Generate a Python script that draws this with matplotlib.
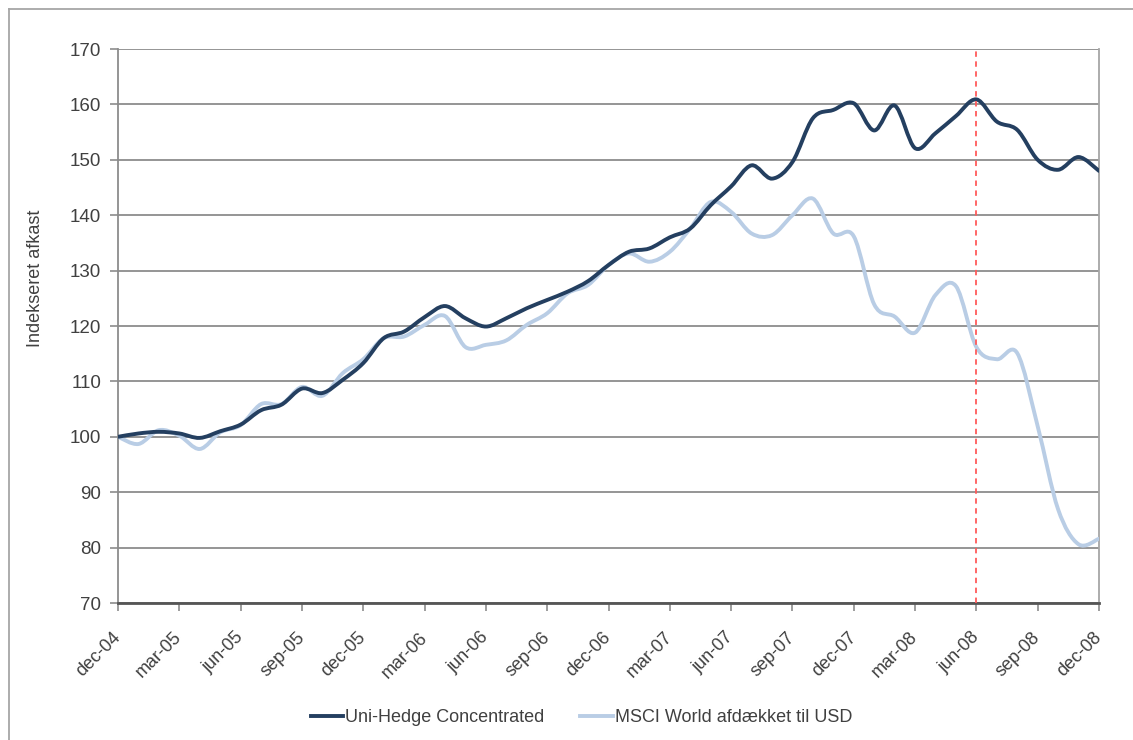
import numpy as np
import matplotlib
matplotlib.use("Agg")
import matplotlib.pyplot as plt
import matplotlib.transforms as mtransforms
from matplotlib.path import Path
from matplotlib.patches import PathPatch
from matplotlib.lines import Line2D

plt.rcParams['font.family'] = ['Liberation Sans Narrow', 'Liberation Sans', 'DejaVu Sans']

# monthly index values, dec-04 .. dec-08
months = ["dec-04", "jan-05", "feb-05", "mar-05", "apr-05", "maj-05", "jun-05", "jul-05",
          "aug-05", "sep-05", "okt-05", "nov-05", "dec-05", "jan-06", "feb-06", "mar-06",
          "apr-06", "maj-06", "jun-06", "jul-06", "aug-06", "sep-06", "okt-06", "nov-06",
          "dec-06", "jan-07", "feb-07", "mar-07", "apr-07", "maj-07", "jun-07", "jul-07",
          "aug-07", "sep-07", "okt-07", "nov-07", "dec-07", "jan-08", "feb-08", "mar-08",
          "apr-08", "maj-08", "jun-08", "jul-08", "aug-08", "sep-08", "okt-08", "nov-08",
          "dec-08"]
unihedge = [100.0, 100.6, 100.9, 100.6, 99.8, 101.0, 102.2, 104.8, 105.8, 108.7,
            107.9, 110.3, 113.3, 117.8, 119.0, 121.6, 123.6, 121.4, 119.9, 121.4,
            123.2, 124.7, 126.2, 128.1, 131.0, 133.4, 134.0, 136.0, 137.6, 141.8,
            145.2, 149.0, 146.6, 149.6, 157.5, 159.0, 160.2, 155.3, 159.8, 152.1,
            154.8, 157.9, 160.9, 156.9, 155.4, 150.0, 148.2, 150.5, 148.0]
msci = [100.0, 98.7, 101.2, 100.2, 97.8, 100.8, 102.1, 105.9, 105.9, 109.0,
        107.4, 111.5, 114.0, 117.8, 118.1, 120.2, 121.8, 116.2, 116.6, 117.4,
        120.2, 122.3, 125.9, 127.4, 131.0, 133.1, 131.6, 133.4, 137.6, 142.4,
        140.6, 136.7, 136.4, 140.0, 143.0, 136.7, 136.2, 123.9, 121.7, 118.8,
        125.6, 127.2, 116.2, 114.0, 115.1, 101.9, 86.9, 80.6, 81.6]
series_names = ["Uni-Hedge Concentrated", "MSCI World afdækket til USD"]
yticks = [70, 80, 90, 100, 110, 120, 130, 140, 150, 160, 170]
marker_month = "jun-08"

dark = "#243f60"
light = "#b9cde5"
txt = "#404040"


def smooth_path(x, y):
    # Excel-style smoothed line: cubic bezier with catmull-rom tangents
    pts = np.column_stack([x, y]).astype(float)
    n = len(pts)
    verts = [pts[0]]
    codes = [Path.MOVETO]
    for i in range(n - 1):
        p0 = pts[i - 1] if i > 0 else pts[i]
        p1 = pts[i]
        p2 = pts[i + 1]
        p3 = pts[i + 2] if i + 2 < n else pts[i + 1]
        c1 = p1 + (p2 - p0) / 6.0
        c2 = p2 - (p3 - p1) / 6.0
        verts += [c1, c2, p2]
        codes += [Path.CURVE4] * 3
    return Path(verts, codes)


fig = plt.figure(figsize=(11.33, 7.40), dpi=100)
ax = fig.add_axes([118 / 1133, 1 - 603 / 740, (1099 - 118) / 1133, (603 - 49) / 740])

x = np.arange(len(months))
for vals, col in [(msci, light), (unihedge, dark)]:
    ax.add_patch(PathPatch(smooth_path(x, vals), facecolor="none", edgecolor=col,
                           lw=2.8, capstyle="round", joinstyle="round", zorder=3))

ax.axvline(months.index(marker_month), color="#ff5a5a", lw=1.3, ls=(0, (3, 2.5)), zorder=4)

ax.set_xlim(0, len(months) - 1)
ax.set_ylim(70, 170)
ax.set_yticks(yticks)
ax.set_xticks(x[::3])
ax.set_xticklabels(months[::3], rotation=45, ha="right", va="center",
                   rotation_mode="anchor")
shift = mtransforms.ScaledTranslation(3 / 100, 0, fig.dpi_scale_trans)
for lab in ax.get_xticklabels():
    lab.set_transform(lab.get_transform() + shift)
ax.yaxis.grid(True, color="#8c8c8c", lw=1.3)
ax.set_axisbelow(True)
ax.spines["top"].set_visible(False)
ax.spines["left"].set_color("#8c8c8c")
ax.spines["right"].set_color("#a6a6a6")
ax.spines["left"].set_linewidth(1.3)
ax.spines["right"].set_linewidth(1.3)
ax.spines["bottom"].set_color("#555555")
ax.spines["bottom"].set_linewidth(2)
ax.tick_params(axis="y", length=6, color="#8c8c8c", width=1.2, labelsize=13.5,
               labelcolor=txt, pad=6)
ax.tick_params(axis="x", length=6, color="#8c8c8c", width=1.2, labelsize=13,
               labelcolor=txt, pad=17)

fig.text(35 / 1133, 1 - 278 / 740, "Indekseret afkast", rotation=90, ha="center",
         va="center", fontsize=13, color=txt)

handles = [Line2D([], [], color=dark, lw=2.8), Line2D([], [], color=light, lw=2.8)]
fig.legend(handles, series_names, loc="center", bbox_to_anchor=(0.513, 1 - 718 / 740),
           ncol=2, frameon=False, fontsize=13, handlelength=1.8, handletextpad=0.1,
           columnspacing=2.0, labelcolor=txt)

# outer chart frame (cropped at right/bottom)
fig.add_artist(Line2D([9 / 1133, 9 / 1133], [0, 1 - 9 / 740], color="#a6a6a6", lw=1.3))
fig.add_artist(Line2D([9 / 1133, 1], [1 - 9 / 740, 1 - 9 / 740], color="#a6a6a6", lw=1.3))

fig.savefig("out.png", dpi=100)
